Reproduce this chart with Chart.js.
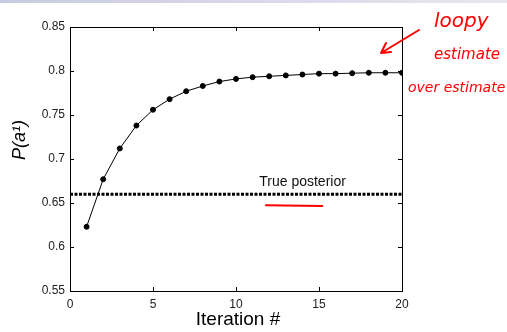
<!DOCTYPE html>
<html lang="en">
<head>
  <meta charset="UTF-8" />
  <title>Loopy belief propagation estimate</title>
  <script src="https://cdn.jsdelivr.net/npm/chart.js"></script>
  <style>
    body { margin: 0; background: #fff; }
    canvas { display: block; }
  </style>
</head>
<body>
  <canvas id="chart" width="507" height="332"></canvas>

  <script>
    // values
    const iterations = [1, 2, 3, 4, 5, 6, 7, 8, 9, 10, 11, 12, 13, 14, 15, 16, 17, 18, 19, 20];
    const loopyEstimate = [0.623, 0.677, 0.712, 0.738, 0.756, 0.768, 0.777, 0.783, 0.788, 0.791,
                           0.793, 0.794, 0.795, 0.796, 0.797, 0.797, 0.7975, 0.798, 0.798, 0.798];
    const trueRange = [0, 20];
    const truePosterior = 0.66;
    const xTicks = [0, 5, 10, 15, 20];
    const yTicks = [0.55, 0.6, 0.65, 0.7, 0.75, 0.8, 0.85];

    const frame = {
      id: 'frame',
      beforeDraw(chart) {
        const c = chart.ctx;
        const g = c.createLinearGradient(0, 0, 507, 0);
        g.addColorStop(0, '#c9cbe0');
        g.addColorStop(1, '#e6e7f0');
        c.save();
        c.fillStyle = g;
        c.fillRect(0, 0, chart.width, 3);
        c.restore();
      },
      afterDraw(chart) {
        const c = chart.ctx;
        const a = chart.chartArea;
        const xs = chart.scales.x, ys = chart.scales.y;
        c.save();
        c.strokeStyle = '#000';
        c.lineWidth = 1;
        c.strokeRect(a.left + 0.5, a.top + 0.5, a.right - a.left, a.bottom - a.top);
        c.beginPath();
        xTicks.forEach(v => {
          const px = Math.round(xs.getPixelForValue(v)) + 0.5;
          c.moveTo(px, a.bottom); c.lineTo(px, a.bottom - 4);
          c.moveTo(px, a.top); c.lineTo(px, a.top + 4);
        });
        yTicks.forEach(v => {
          const py = Math.round(ys.getPixelForValue(v)) + 0.5;
          c.moveTo(a.left, py); c.lineTo(a.left + 4, py);
          c.moveTo(a.right, py); c.lineTo(a.right - 4, py);
        });
        c.stroke();

        // axis titles
        c.fillStyle = '#000';
        c.textAlign = 'center';
        c.textBaseline = 'middle';
        c.font = '19px "Liberation Sans", Arial, sans-serif';
        c.fillText('Iteration #', 238, 320);
        c.save();
        c.translate(20, 140);
        c.rotate(-Math.PI / 2);
        c.font = 'italic 18px "Liberation Sans", Arial, sans-serif';
        c.fillText('P(a\u00B9)', 0, 0);
        c.restore();

        // label on the true posterior line
        c.font = '14px "Liberation Sans", Arial, sans-serif';
        c.fillStyle = '#111';
        c.textAlign = 'left';
        c.fillText('True posterior', xs.getPixelForValue(11.4), ys.getPixelForValue(0.6735));

        // red handwritten notes
        c.strokeStyle = '#f00';
        c.fillStyle = '#f00';
        c.lineWidth = 2;
        c.lineCap = 'round';
        c.beginPath();
        c.moveTo(xs.getPixelForValue(11.8), ys.getPixelForValue(0.6475));
        c.lineTo(xs.getPixelForValue(15.2), ys.getPixelForValue(0.6465));
        c.stroke();
        c.beginPath();
        c.moveTo(419, 30); c.lineTo(381, 53);
        c.moveTo(381, 53); c.lineTo(386, 43);
        c.moveTo(381, 53); c.lineTo(391, 52);
        c.stroke();
        c.font = 'italic 20px "DejaVu Sans", sans-serif';
        c.textAlign = 'left';
        c.fillText('loopy', 434, 22);
        c.font = 'italic 15px "DejaVu Sans", sans-serif';
        c.fillText('estimate', 434, 55);
        c.font = 'italic 14px "DejaVu Sans", sans-serif';
        c.fillText('over estimate', 408, 88);
        c.restore();
      }
    };

    new Chart(document.getElementById('chart'), {
      type: 'line',
      data: {
        datasets: [
          {
            label: 'Loopy estimate',
            data: iterations.map((it, i) => ({ x: it, y: loopyEstimate[i] })),
            borderColor: '#000',
            backgroundColor: '#000',
            borderWidth: 1,
            pointRadius: 2.5,
            pointHoverRadius: 2.5,
            tension: 0
          },
          {
            label: 'True posterior',
            data: trueRange.map(x => ({ x: x, y: truePosterior })),
            borderColor: '#000',
            borderWidth: 3,
            borderDash: [3, 1.5],
            pointRadius: 0,
            tension: 0
          }
        ]
      },
      options: {
        responsive: false,
        animation: false,
        layout: { padding: { left: 0, right: 105, top: 27, bottom: 0 } },
        plugins: {
          legend: { display: false },
          tooltip: { enabled: false }
        },
        scales: {
          x: {
            type: 'linear',
            min: 0,
            max: 20,
            afterFit: s => { s.height = 41; },
            afterBuildTicks: s => { s.ticks = xTicks.map(v => ({ value: v })); },
            grid: { display: false, drawTicks: false },
            border: { display: false },
            ticks: {
              padding: 6,
              maxRotation: 0,
              color: '#222',
              font: { family: '"Liberation Sans", Arial, sans-serif', size: 12 }
            }
          },
          y: {
            min: 0.55,
            max: 0.85,
            afterFit: s => { s.width = 70; },
            afterBuildTicks: s => { s.ticks = yTicks.map(v => ({ value: v })); },
            grid: { display: false, drawTicks: false },
            border: { display: false },
            ticks: {
              padding: 5,
              color: '#222',
              callback: v => String(Math.round(v * 100) / 100),
              font: { family: '"Liberation Sans", Arial, sans-serif', size: 12 }
            }
          }
        }
      },
      plugins: [frame]
    });
  </script>
</body>
</html>
